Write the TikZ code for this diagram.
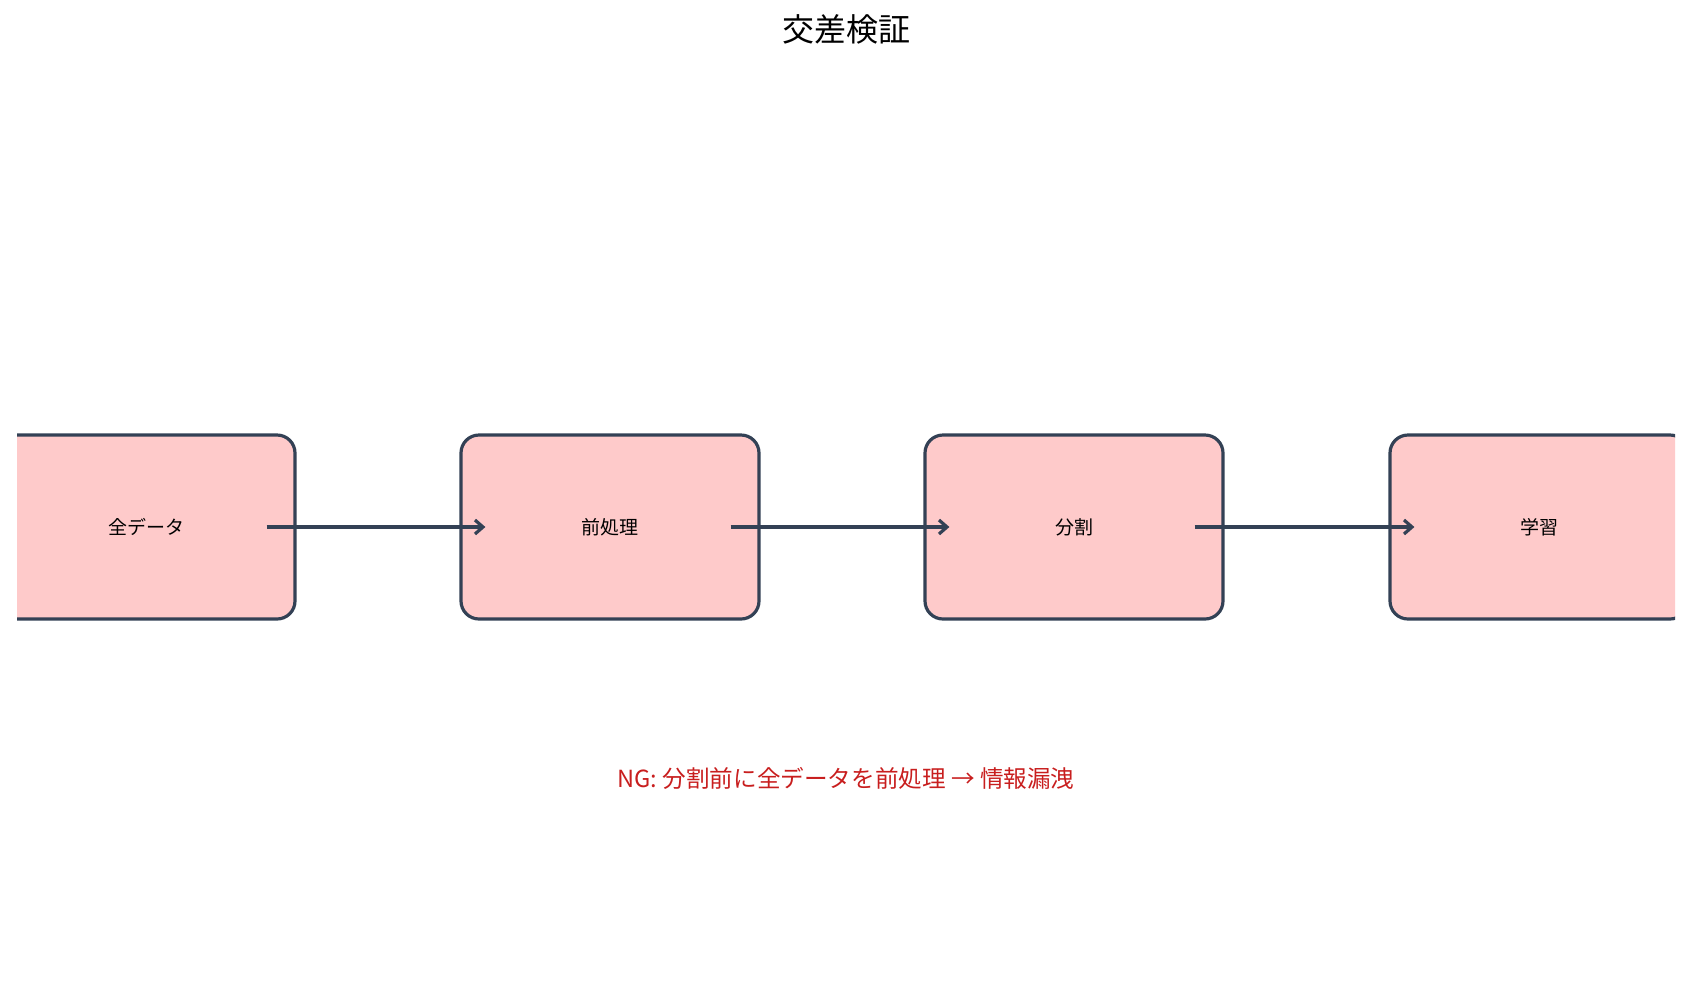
\documentclass[tikz,border=0pt]{standalone}
\usepackage{fontspec}
\setmainfont{Noto Sans CJK JP}
\usetikzlibrary{arrows.meta,positioning}
\definecolor{edgec}{HTML}{334155}
\definecolor{boxc}{HTML}{FECACA}
\definecolor{ngc}{HTML}{C81E1E}
\begin{document}
\begin{tikzpicture}[
  x=0.5pt, y=-0.5pt,
  stage/.style={draw=edgec, fill=boxc, line width=1.6pt, rounded corners=9pt,
    minimum width=149pt, minimum height=92pt, font=\fontsize{9.5}{11}\selectfont},
  arr/.style={-{Straight Barb[length=4pt,width=7pt]}, draw=edgec, line width=1.6pt}
]
\useasboundingbox (0,0) rectangle (1682,1003);

% Title
\node[font=\fontsize{16}{19}\selectfont] (title) at (846,29) {交差検証};

% Pipeline stages (outer ones cut by the frame)
\begin{scope}
\clip (17,0) rectangle (1675,1003);
\node[stage] (all) at (146,527) {全データ};
\node[stage] (prep) at (610,527) {前処理};
\node[stage] (split) at (1074,527) {分割};
\node[stage] (train) at (1539,527) {学習};
\end{scope}

% Connectors
\draw[arr] ([xshift=-15pt]all.east) -- ([xshift=13pt]prep.west);
\draw[arr] ([xshift=-15pt]prep.east) -- ([xshift=13pt]split.west);
\draw[arr] ([xshift=-15pt]split.east) -- ([xshift=13pt]train.west);

% Warning
\node[text=ngc, font=\fontsize{11.8}{14}\selectfont] (ng) at (846,778)
  {NG: 分割前に全データを前処理 → 情報漏洩};
\end{tikzpicture}
\end{document}
